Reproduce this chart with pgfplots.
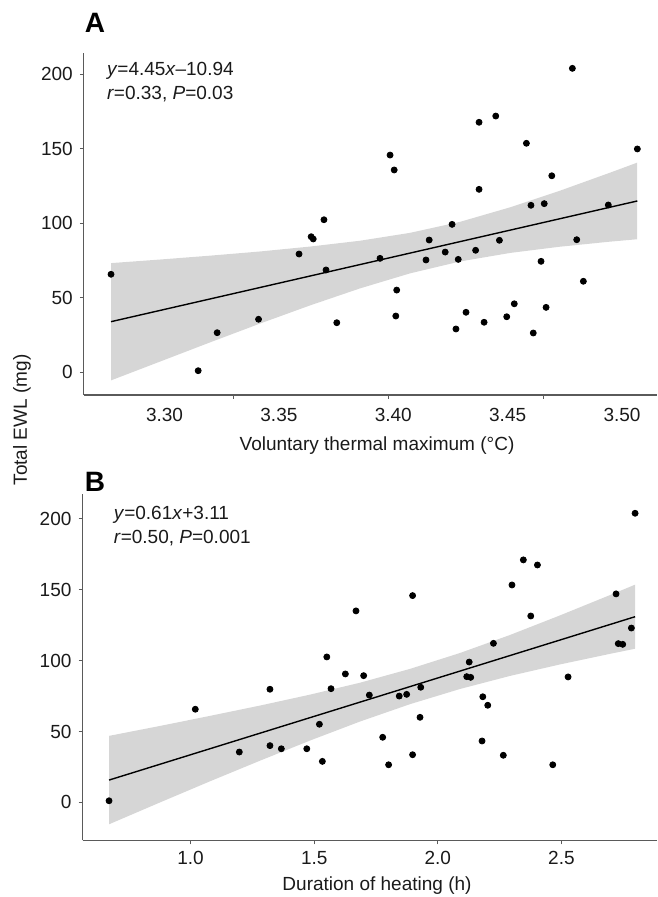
\documentclass[border=0pt]{standalone}
\usepackage{fontspec}
\setmainfont{Liberation Sans}
\usepackage{pgfplots}
\pgfplotsset{compat=1.18}
\definecolor{axisgray}{HTML}{5A5A5A}
\definecolor{bandgray}{gray}{0.6}
\definecolor{txt}{HTML}{1A1A1A}
\pgfplotsset{myax/.style={scale only axis, anchor=south west,
  axis x line*=bottom, axis y line*=left,
  axis line style={draw=axisgray, line width=0.6pt},
  tick style={draw=axisgray, line width=0.5pt},
  tick align=outside, major tick length=2pt,
  ticklabel style={font=\fontsize{9.5}{11}\selectfont, text=txt},
  /pgf/number format/assume math mode=true,
  ytick={0,50,100,150,200}, clip=false}}
\begin{document}
\begin{tikzpicture}
\path[use as bounding box] (0pt,0pt) rectangle (328.5pt,448.5pt);
% ---------------- Panel A
\begin{axis}[myax, at={(41.9pt,251pt)}, width=286.6pt, height=170.85pt,
  xmin=3.2647, xmax=3.5153, ymin=-15.2, ymax=214.1,
  xtick={3.3303,3.3980,3.4658}, xticklabels={,,},
  extra x ticks={3.30,3.35,3.40,3.45,3.50},
  extra x tick labels={3.30,3.35,3.40,3.45,3.50},
  extra x tick style={major tick length=0pt, xticklabel style={yshift=-3pt}}]
\addplot[only marks, mark=*, mark size=1.5pt, black] coordinates {
(3.2766,65.8) (3.3147,1.1) (3.3230,26.6) (3.3411,35.6) (3.3588,79.4)
(3.3641,91.0) (3.3650,89.5) (3.3697,102.4) (3.3706,68.7) (3.3753,33.3)
(3.3942,76.5) (3.3986,145.8) (3.4004,135.8) (3.4015,55.2) (3.4011,37.8)
(3.4143,75.4) (3.4157,88.8) (3.4227,80.7) (3.4257,99.3) (3.4284,75.8)
(3.4274,29.1) (3.4318,40.3) (3.4360,81.9) (3.4375,167.8) (3.4375,122.8)
(3.4397,33.6) (3.4448,172.0) (3.4464,88.6) (3.4496,37.3) (3.4529,46.0)
(3.4582,153.7) (3.4602,112.1) (3.4612,26.4) (3.4646,74.5) (3.4660,113.2)
(3.4668,43.6) (3.4693,131.9) (3.4783,204.0) (3.4802,89.0) (3.4831,61.1)
(3.4940,112.3) (3.5067,149.9)};
\addplot[draw=none, fill=bandgray, fill opacity=0.4] coordinates {
(3.2766,73.3) (3.2980,75.7) (3.3199,78.3) (3.3417,81.1) (3.3636,84.4)
(3.3854,88.3) (3.4073,93.6) (3.4292,101.0) (3.4510,110.7) (3.4729,121.9)
(3.4948,134.0) (3.5066,140.7)
(3.5066,89.3) (3.4948,87.7) (3.4729,84.3) (3.4510,80.1) (3.4292,74.4)
(3.4073,66.4) (3.3854,56.3) (3.3636,44.9) (3.3417,32.7) (3.3199,20.1)
(3.2980,7.2) (3.2766,-5.4)};
\addplot[black, line width=0.7pt] coordinates {(3.2766,34.0) (3.5067,115.0)};
\end{axis}
% ---------------- Panel B
\begin{axis}[myax, at={(41.25pt,28.35pt)}, width=287.25pt, height=173.15pt,
  xmin=0.5627, xmax=2.8867, ymin=-26.8, ymax=217.6,
  xtick={1.0,1.5,2.0,2.5}, xticklabels={1.0,1.5,2.0,2.5}]
\addplot[only marks, mark=*, mark size=1.5pt, black] coordinates {
(0.670,1.1) (1.019,65.7) (1.197,35.5) (1.321,79.8) (1.321,40.0)
(1.367,37.8) (1.470,37.8) (1.533,28.9) (1.521,55.1) (1.551,102.6)
(1.568,80.2) (1.626,90.6) (1.669,135.1) (1.700,89.4) (1.723,75.7)
(1.777,45.9) (1.801,26.5) (1.844,75.0) (1.874,76.2) (1.898,145.9)
(1.898,33.6) (1.928,60.0) (1.931,81.2) (2.127,99.0) (2.117,88.7)
(2.133,88.2) (2.182,74.5) (2.202,68.5) (2.179,43.3) (2.225,112.2)
(2.265,33.2) (2.300,153.4) (2.346,171.1) (2.376,131.5) (2.403,167.5)
(2.465,26.5) (2.527,88.5) (2.721,147.1) (2.730,112.0) (2.748,111.5)
(2.783,123.0) (2.798,204.0)};
\addplot[draw=none, fill=bandgray, fill opacity=0.4] coordinates {
(0.670,46.9) (0.876,53.9) (1.078,61.0) (1.281,68.3) (1.483,76.0)
(1.685,84.4) (1.888,94.2) (2.090,105.4) (2.292,118.1) (2.494,131.9)
(2.697,146.3) (2.798,153.6)
(2.798,108.4) (2.697,104.8) (2.494,97.3) (2.292,89.2) (2.090,80.0)
(1.888,69.3) (1.685,57.0) (1.483,43.6) (1.281,29.4) (1.078,14.8)
(0.876,-0.1) (0.670,-15.5)};
\addplot[black, line width=0.7pt] coordinates {(0.670,15.7) (2.798,131.0)};
\end{axis}
% ---------------- texts
\begin{scope}[every node/.style={font=\fontsize{9.5}{11}\selectfont, text=txt, inner sep=0pt}]
\node[anchor=base west] at (53.3pt,410.75pt) {\textit{y}=4.45\textit{x}–10.94};
\node[anchor=base west] at (53.3pt,398.6pt) {\textit{r}=0.33, \textit{P}=0.03};
\node[anchor=base west] at (56.7pt,188.6pt) {\textit{y}=0.61\textit{x}+3.11};
\node[anchor=base west] at (56.7pt,176.9pt) {\textit{r}=0.50, \textit{P}=0.001};
\node at (188.5pt,225.5pt) {Voluntary thermal maximum (°C)};
\node at (188.5pt,5.5pt) {Duration of heating (h)};
\node[rotate=90] at (11pt,238.5pt) {Total EWL (mg)};
\end{scope}
\node[font=\fontsize{14}{16}\bfseries\selectfont, inner sep=0pt] at (47.5pt,437pt) {A};
\node[font=\fontsize{14}{16}\bfseries\selectfont, inner sep=0pt] at (47.5pt,207.5pt) {B};
\end{tikzpicture}
\end{document}
